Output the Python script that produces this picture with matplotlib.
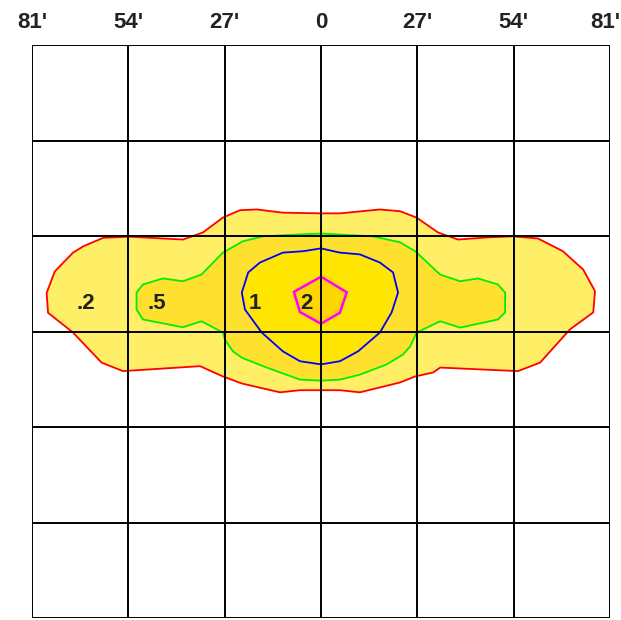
import matplotlib.pyplot as plt
from matplotlib.transforms import ScaledTranslation

# grid in feet, one cell = 27'
tick_pos = [-81, -54, -27, 0, 27, 54, 81]
tick_labels = ["81'", "54'", "27'", "0", "27'", "54'", "81'"]

# iso-footcandle contours (feet)
red_x = [-76.9, -74.6, -69.5, -66.6, -61.0, -53.6, -44.3, -38.7, -33.1, -27.5, -22.7, -18.0,
         -10.7, 0.0, 5.3, 16.5, 22.2, 26.8, 32.8, 38.4, 46.5, 53.8, 60.8, 67.8, 73.5, 76.8,
         76.3, 69.8, 61.4, 55.2, 33.4, 31.4, 26.4, 22.2, 10.9, 5.3, -5.9, -11.5, -22.2,
         -27.5, -33.9, -55.5, -61.5, -69.5, -76.5]
red_y = [10.9, 17.0, 22.3, 24.1, 26.5, 26.8, 26.3, 26.0, 28.0, 32.2, 34.3, 34.5,
         33.6, 33.4, 33.4, 34.5, 34.0, 32.2, 28.0, 26.0, 26.6, 26.9, 26.3, 22.7, 17.5, 11.4,
         5.4, 0.6, -8.8, -11.2, -10.2, -11.6, -12.7, -14.4, -17.2, -16.6, -16.6, -17.2, -14.7,
         -12.7, -9.8, -11.2, -8.8, -0.3, 5.3]

green_x = [-51.7, -49.9, -44.3, -38.7, -33.5, -27.5, -21.9, -16.3, -6.8, 0.0, 14.6, 22.2,
           26.4, 33.4, 39.0, 44.0, 49.6, 51.6, 51.6, 49.6, 39.0, 33.4, 26.8, 25.0, 23.0,
           18.4, 10.9, 5.3, 0.0, -5.9, -15.2, -22.2, -24.7, -26.9, -27.5, -33.5, -38.7,
           -49.9, -51.7]
green_y = [11.0, 13.3, 15.0, 14.2, 16.1, 22.3, 25.5, 26.9, 27.4, 27.7, 26.9, 25.2,
           22.7, 16.1, 14.2, 15.0, 13.3, 11.0, 5.4, 3.4, 1.1, 2.9, -0.3, -4.2, -6.5,
           -9.3, -12.2, -13.6, -13.9, -13.6, -10.2, -7.4, -5.6, -2.3, -0.3, 2.9, 1.2,
           3.4, 6.2]

blue_x = [-22.2, -20.4, -17.1, -10.7, -5.0, 0.0, 5.3, 10.9, 16.5, 20.2, 21.6, 19.8,
          16.5, 10.4, 5.3, 0.0, -5.9, -10.7, -16.6, -21.3]
blue_y = [11.0, 16.7, 19.5, 22.3, 22.7, 23.5, 22.3, 21.8, 19.5, 16.7, 11.0, 5.4,
          -0.3, -5.6, -8.4, -9.3, -8.4, -5.6, -0.3, 6.2]

mag_x = [0.0, 7.2, 5.3, 0.0, -5.9, -7.6]
mag_y = [15.5, 11.1, 5.3, 2.2, 5.5, 11.2]

level_labels = [".2", ".5", "1", "2"]
label_x = [-66, -46, -18.5, -4]
label_y = [7.8, 7.8, 7.8, 7.8]

plt.rcParams['font.family'] = ['Liberation Sans', 'DejaVu Sans']

fig = plt.figure(figsize=(6.21, 6.20), dpi=100)
ax = fig.add_axes([32 / 621, 2 / 620, 578 / 621, 573 / 620])

layers = [
    (red_x, red_y, "#FFEF66", "#FF0000", 1.3),
    (green_x, green_y, "#FDE12E", "#00EE00", 1.3),
    (blue_x, blue_y, "#FFE600", "#0000FF", 1.3),
    (mag_x, mag_y, "#FFD700", "#FF00FF", 1.8),
]
for xs, ys, fc, ec, lw in layers:
    ax.fill(xs, ys, facecolor=fc, edgecolor="none", zorder=1)
    ax.fill(xs, ys, facecolor="none", edgecolor=ec, linewidth=lw, zorder=2)

for t in tick_pos:
    ax.axvline(t, color="black", linewidth=1.4, zorder=3)
    ax.axhline(t, color="black", linewidth=1.4, zorder=3)

for lab, lx, ly in zip(level_labels, label_x, label_y):
    ax.text(lx, ly, lab, ha="center", va="center", fontsize=16,
            fontweight="bold", color="#222222", zorder=4)

ax.set_xlim(-81, 81)
ax.set_ylim(-81, 81)
ax.xaxis.tick_top()
ax.set_xticks(tick_pos)
ax.set_xticklabels(tick_labels, fontsize=16, fontweight="bold", color="#222222")
ax.tick_params(axis="x", length=0, pad=9)
# nudge the outer labels so they stay inside the picture
labels = ax.get_xticklabels()
labels[-1].set_transform(labels[-1].get_transform() + ScaledTranslation(-5 / 100, 0, fig.dpi_scale_trans))
ax.set_yticks([])
for s in ax.spines.values():
    s.set_visible(False)

fig.savefig("out.png", dpi=100)
